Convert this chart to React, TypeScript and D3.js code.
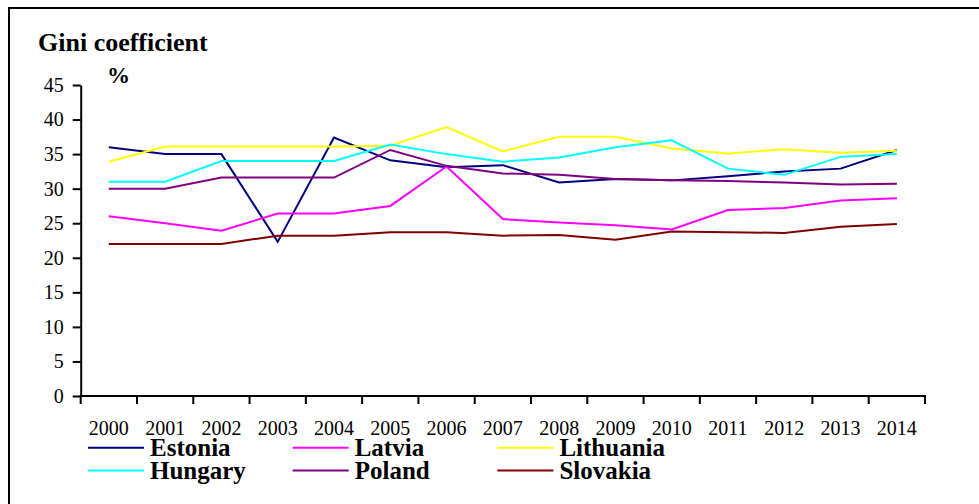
import React, { useRef, useEffect } from 'react';
import * as d3 from 'd3';

const years = ['2000', '2001', '2002', '2003', '2004', '2005', '2006', '2007', '2008', '2009', '2010', '2011', '2012', '2013', '2014'];

const estonia = [36.0, 35.0, 35.0, 22.3, 37.4, 34.1, 33.1, 33.4, 30.9, 31.4, 31.2, 31.8, 32.5, 32.9, 35.6];
const latvia = [26.0, 25.0, 23.9, 26.4, 26.4, 27.5, 33.2, 25.6, 25.1, 24.7, 24.1, 26.9, 27.2, 28.3, 28.6];
const lithuania = [33.9, 36.1, 36.1, 36.1, 36.1, 36.2, 38.9, 35.4, 37.5, 37.5, 35.8, 35.1, 35.7, 35.2, 35.5];
const hungary = [31.0, 31.0, 34.0, 34.0, 34.0, 36.4, 35.0, 33.9, 34.5, 36.0, 37.0, 32.9, 32.0, 34.6, 35.0];
const poland = [30.0, 30.0, 31.6, 31.6, 31.6, 35.6, 33.3, 32.2, 32.0, 31.4, 31.2, 31.1, 30.9, 30.6, 30.7];
const slovakia = [22.0, 22.0, 22.0, 23.2, 23.2, 23.7, 23.7, 23.2, 23.3, 22.6, 23.8, 23.7, 23.6, 24.5, 24.9];

const yTicks = [0, 5, 10, 15, 20, 25, 30, 35, 40, 45];

const series = [
    { name: 'Estonia', values: estonia, color: '#000080' },
    { name: 'Latvia', values: latvia, color: '#FF00FF' },
    { name: 'Lithuania', values: lithuania, color: '#FFFF00' },
    { name: 'Hungary', values: hungary, color: '#00FFFF' },
    { name: 'Poland', values: poland, color: '#800080' },
    { name: 'Slovakia', values: slovakia, color: '#800000' },
];

const FONT = "'Liberation Serif'";

const GiniChart = ({ width = 979, height = 504 }) => {

    const svgRef = useRef(null);

    useEffect(() => {
        const svg = d3.select(svgRef.current)
            .attr('width', width)
            .attr('height', height);

        // limpa antes de desenhar
        svg.selectAll('*').remove();

        // moldura exterior (cortada à direita e em baixo)
        svg.append('rect')
            .attr('x', 9)
            .attr('y', 8)
            .attr('width', width + 20)
            .attr('height', height + 20)
            .attr('fill', 'white')
            .attr('stroke', 'black')
            .attr('stroke-width', 2);

        const left = 80.7, right = 925, top = 85, bottom = 396;

        const xScale = d3.scaleBand()
            .domain(years)
            .range([left, right]);

        const yScale = d3.scaleLinear()
            .domain([0, 45])
            .range([bottom, top]);

        const cx = d => xScale(d) + xScale.bandwidth() / 2;

        // títulos
        svg.append('text')
            .attr('x', 38)
            .attr('y', 50.5)
            .style('font-family', FONT)
            .style('font-weight', 'bold')
            .style('font-size', '26px')
            .text('Gini coefficient');

        svg.append('text')
            .attr('x', 107)
            .attr('y', 83)
            .style('font-family', FONT)
            .style('font-weight', 'bold')
            .style('font-size', '23px')
            .text('%');

        // eixo Y
        const yAxis = d3.axisLeft(yScale)
            .tickValues(yTicks)
            .tickSize(8)
            .tickSizeOuter(0)
            .tickPadding(9);

        const gy = svg.append('g')
            .attr('transform', `translate(${left}, 0)`)
            .call(yAxis);

        gy.selectAll('line, path').attr('stroke', 'black').attr('stroke-width', 2);
        gy.selectAll('text')
            .style('font-family', FONT)
            .style('font-size', '20px')
            .attr('fill', 'black');

        // eixo X: ticks nas divisões, rótulos no centro
        const gx = svg.append('g');

        gx.append('line')
            .attr('x1', left - 1)
            .attr('x2', right + 1)
            .attr('y1', bottom)
            .attr('y2', bottom)
            .attr('stroke', 'black')
            .attr('stroke-width', 2);

        const edges = years.map(d => xScale(d)).concat([right]);
        gx.selectAll('.xtick')
            .data(edges)
            .enter()
            .append('line')
            .attr('class', 'xtick')
            .attr('x1', d => d)
            .attr('x2', d => d)
            .attr('y1', bottom)
            .attr('y2', bottom + 8)
            .attr('stroke', 'black')
            .attr('stroke-width', 2);

        gx.selectAll('.xlabel')
            .data(years)
            .enter()
            .append('text')
            .attr('class', 'xlabel')
            .attr('x', d => cx(d))
            .attr('y', 434.5)
            .attr('text-anchor', 'middle')
            .style('font-family', FONT)
            .style('font-size', '20px')
            .text(d => d);

        // linhas
        const line = d3.line()
            .x((d, i) => cx(years[i]))
            .y(d => yScale(d));

        svg.selectAll('.serie')
            .data(series)
            .enter()
            .append('path')
            .attr('class', 'serie')
            .attr('d', d => line(d.values))
            .attr('fill', 'none')
            .attr('stroke', d => d.color)
            .attr('stroke-width', 2);

        // legenda
        const legend = svg.selectAll('.legend')
            .data(series)
            .enter()
            .append('g')
            .attr('class', 'legend')
            .attr('transform', (d, i) => `translate(${88 + (i % 3) * 204.7}, ${447.7 + Math.floor(i / 3) * 22.7})`);

        legend.append('line')
            .attr('x1', 0)
            .attr('x2', 56)
            .attr('y1', 0)
            .attr('y2', 0)
            .attr('stroke', d => d.color)
            .attr('stroke-width', 2);

        legend.append('text')
            .attr('x', 62)
            .attr('y', 8.5)
            .style('font-family', FONT)
            .style('font-weight', 'bold')
            .style('font-size', '25px')
            .text(d => d.name);

    }, [width, height]);

    return (
        <svg ref={svgRef} style={{ position: 'absolute', left: 0, top: 0 }}></svg>
    );
}

export default function App() {
    return <GiniChart />;
}
